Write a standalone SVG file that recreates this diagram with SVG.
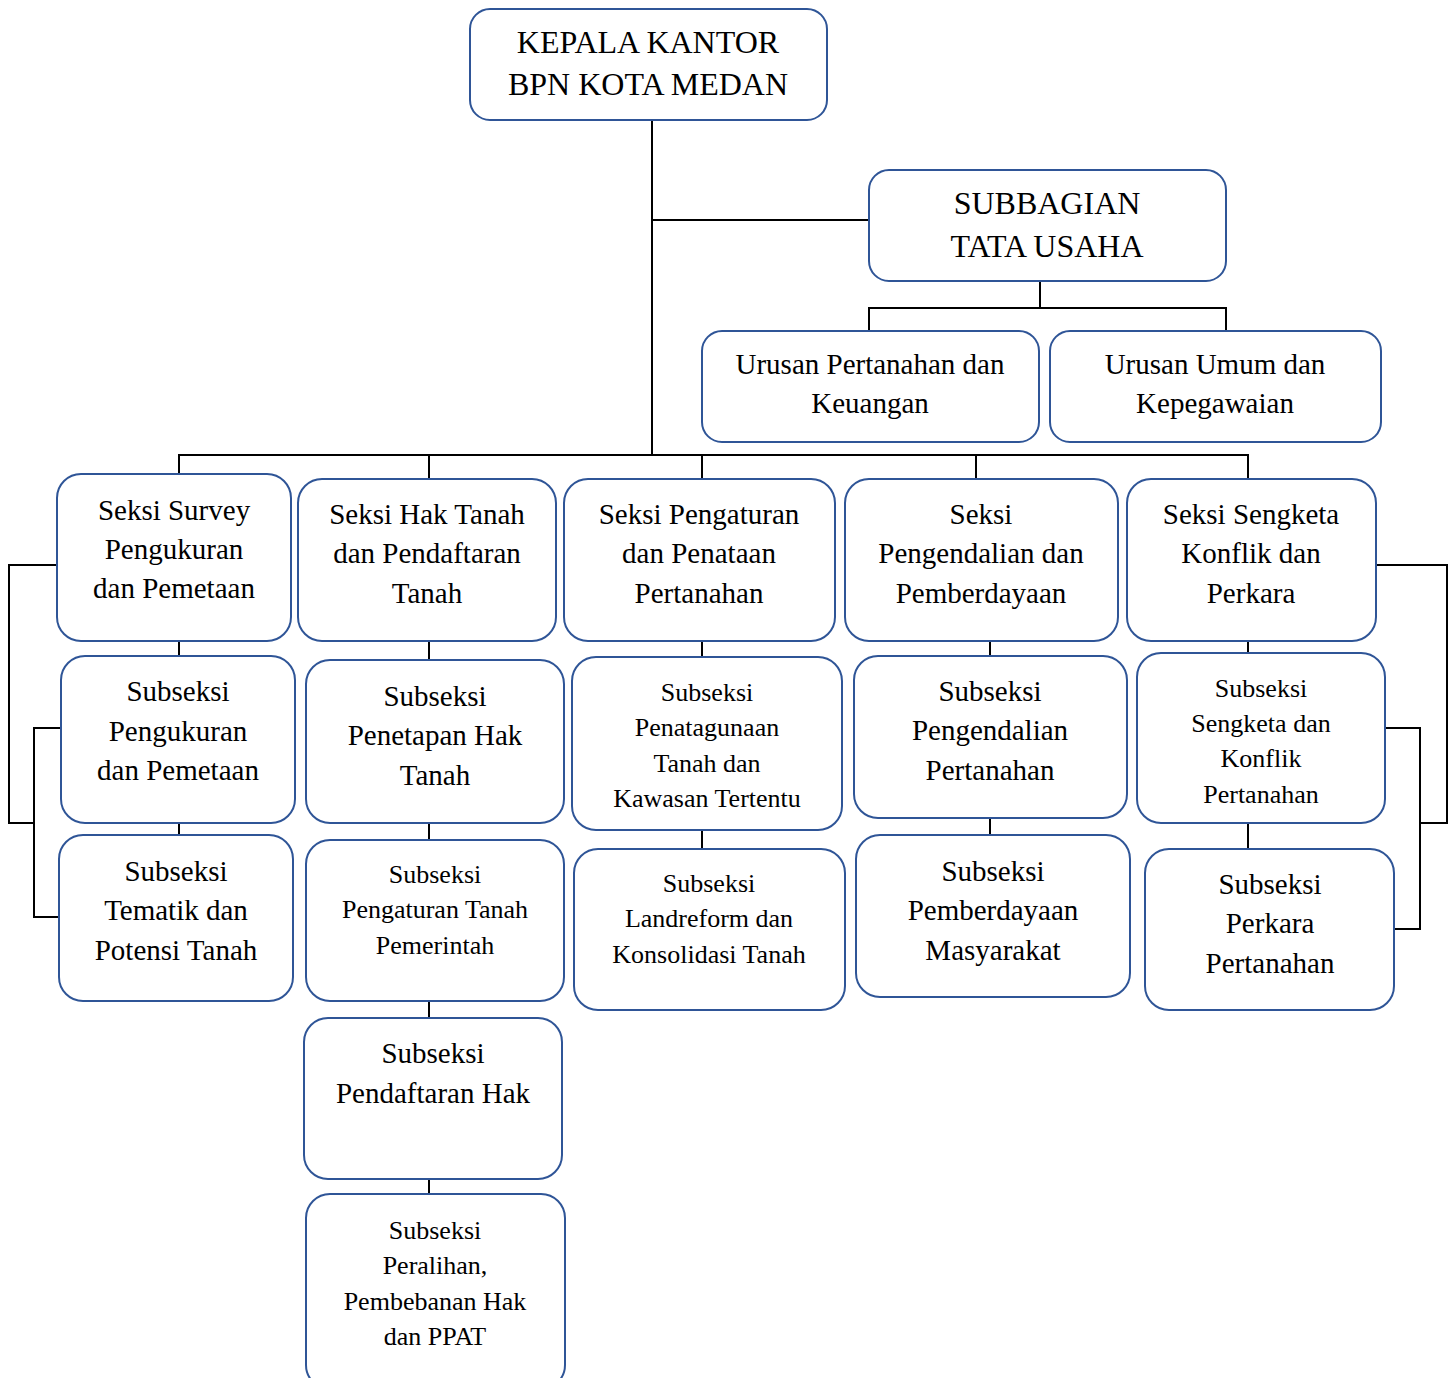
<svg xmlns="http://www.w3.org/2000/svg" width="1453" height="1378" viewBox="0 0 1453 1378">
<style>
.box{fill:#fff;stroke:#2F5597;stroke-width:2}
.t{font-family:"Liberation Serif","Times New Roman",serif;fill:#000;text-anchor:middle}
.l{font-size:29px}
.s{font-size:26px}
.h{font-size:32px}
.c{fill:none;stroke:#000;stroke-width:2}
</style>
<rect width="1453" height="1378" fill="#fff"/>
<g id="connectors">
<path class="c" d="M652 120V455M652 220H869M1040 281V308M869 331V308H1226V331M179 474V455H1248V479M429 455V479M702 455V479M976 455V479"/>
<path class="c" d="M179 641V656M179 823V835M429 641V660M429 823V840M429 1001V1018M429 1179V1194M702 641V657M702 830V849M990 641V656M990 818V835M1248 641V653M1248 823V849"/>
<path class="c" d="M57 565H9V823H34M61 728H34V917H59M1376 565H1447V823H1420M1385 728H1420V929H1394"/>
</g>
<g id="kepala"><rect class="box" x="470" y="9" width="357" height="111" rx="20"/><text class="t h"><tspan x="648" y="53">KEPALA KANTOR</tspan><tspan x="648" y="95">BPN KOTA MEDAN</tspan></text></g>
<g id="subbagian"><rect class="box" x="869" y="170" width="357" height="111" rx="20"/><text class="t h"><tspan x="1047" y="214">SUBBAGIAN</tspan><tspan x="1047" y="257">TATA USAHA</tspan></text></g>
<g id="urusan-pertanahan"><rect class="box" x="702" y="331" width="337" height="111" rx="20"/><text class="t l"><tspan x="870" y="374">Urusan Pertanahan dan</tspan><tspan x="870" y="413">Keuangan</tspan></text></g>
<g id="urusan-umum"><rect class="box" x="1050" y="331" width="331" height="111" rx="20"/><text class="t l"><tspan x="1215" y="374">Urusan Umum dan</tspan><tspan x="1215" y="413">Kepegawaian</tspan></text></g>
<g id="seksi-survey"><rect class="box" x="57" y="474" width="234" height="167" rx="24"/><text class="t l"><tspan x="174" y="520">Seksi Survey</tspan><tspan x="174" y="559">Pengukuran</tspan><tspan x="174" y="598">dan Pemetaan</tspan></text></g>
<g id="seksi-hak-tanah"><rect class="box" x="298" y="479" width="258" height="162" rx="24"/><text class="t l"><tspan x="427" y="524">Seksi Hak Tanah</tspan><tspan x="427" y="563">dan Pendaftaran</tspan><tspan x="427" y="603">Tanah</tspan></text></g>
<g id="seksi-pengaturan"><rect class="box" x="564" y="479" width="271" height="162" rx="24"/><text class="t l"><tspan x="699" y="524">Seksi Pengaturan</tspan><tspan x="699" y="563">dan Penataan</tspan><tspan x="699" y="603">Pertanahan</tspan></text></g>
<g id="seksi-pengendalian"><rect class="box" x="845" y="479" width="273" height="162" rx="24"/><text class="t l"><tspan x="981" y="524">Seksi</tspan><tspan x="981" y="563">Pengendalian dan</tspan><tspan x="981" y="603">Pemberdayaan</tspan></text></g>
<g id="seksi-sengketa"><rect class="box" x="1127" y="479" width="249" height="162" rx="24"/><text class="t l"><tspan x="1251" y="524">Seksi Sengketa</tspan><tspan x="1251" y="563">Konflik dan</tspan><tspan x="1251" y="603">Perkara</tspan></text></g>
<g id="sub-pengukuran"><rect class="box" x="61" y="656" width="234" height="167" rx="24"/><text class="t l"><tspan x="178" y="701">Subseksi</tspan><tspan x="178" y="741">Pengukuran</tspan><tspan x="178" y="780">dan Pemetaan</tspan></text></g>
<g id="sub-penetapan"><rect class="box" x="306" y="660" width="258" height="163" rx="24"/><text class="t l"><tspan x="435" y="706">Subseksi</tspan><tspan x="435" y="745">Penetapan Hak</tspan><tspan x="435" y="785">Tanah</tspan></text></g>
<g id="sub-penatagunaan"><rect class="box" x="572" y="657" width="270" height="173" rx="24"/><text class="t s"><tspan x="707" y="701">Subseksi</tspan><tspan x="707" y="736">Penatagunaan</tspan><tspan x="707" y="772">Tanah dan</tspan><tspan x="707" y="807">Kawasan Tertentu</tspan></text></g>
<g id="sub-pengendalian"><rect class="box" x="854" y="656" width="273" height="162" rx="24"/><text class="t l"><tspan x="990" y="701">Subseksi</tspan><tspan x="990" y="740">Pengendalian</tspan><tspan x="990" y="780">Pertanahan</tspan></text></g>
<g id="sub-sengketa"><rect class="box" x="1137" y="653" width="248" height="170" rx="24"/><text class="t s"><tspan x="1261" y="697">Subseksi</tspan><tspan x="1261" y="732">Sengketa dan</tspan><tspan x="1261" y="767">Konflik</tspan><tspan x="1261" y="803">Pertanahan</tspan></text></g>
<g id="sub-tematik"><rect class="box" x="59" y="835" width="234" height="166" rx="24"/><text class="t l"><tspan x="176" y="881">Subseksi</tspan><tspan x="176" y="920">Tematik dan</tspan><tspan x="176" y="960">Potensi Tanah</tspan></text></g>
<g id="sub-pengaturan-tanah"><rect class="box" x="306" y="840" width="258" height="161" rx="24"/><text class="t s"><tspan x="435" y="883">Subseksi</tspan><tspan x="435" y="918">Pengaturan Tanah</tspan><tspan x="435" y="954">Pemerintah</tspan></text></g>
<g id="sub-landreform"><rect class="box" x="574" y="849" width="271" height="161" rx="24"/><text class="t s"><tspan x="709" y="892">Subseksi</tspan><tspan x="709" y="927">Landreform dan</tspan><tspan x="709" y="963">Konsolidasi Tanah</tspan></text></g>
<g id="sub-pemberdayaan"><rect class="box" x="856" y="835" width="274" height="162" rx="24"/><text class="t l"><tspan x="993" y="881">Subseksi</tspan><tspan x="993" y="920">Pemberdayaan</tspan><tspan x="993" y="960">Masyarakat</tspan></text></g>
<g id="sub-perkara"><rect class="box" x="1145" y="849" width="249" height="161" rx="24"/><text class="t l"><tspan x="1270" y="894">Subseksi</tspan><tspan x="1270" y="933">Perkara</tspan><tspan x="1270" y="973">Pertanahan</tspan></text></g>
<g id="sub-pendaftaran"><rect class="box" x="304" y="1018" width="258" height="161" rx="24"/><text class="t l"><tspan x="433" y="1063">Subseksi</tspan><tspan x="433" y="1103">Pendaftaran Hak</tspan></text></g>
<g id="sub-peralihan"><rect class="box" x="306" y="1194" width="259" height="195" rx="24"/><text class="t s"><tspan x="435" y="1239">Subseksi</tspan><tspan x="435" y="1274">Peralihan,</tspan><tspan x="435" y="1310">Pembebanan Hak</tspan><tspan x="435" y="1345">dan PPAT</tspan></text></g>
</svg>
